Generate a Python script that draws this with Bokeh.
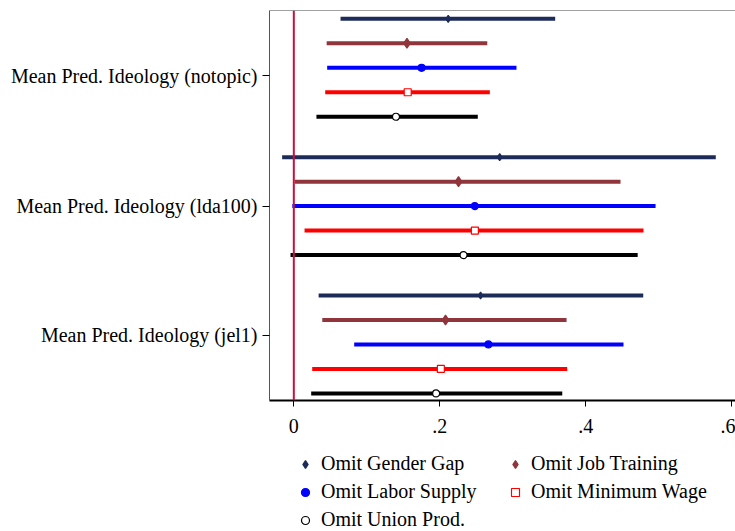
from bokeh.plotting import figure
from bokeh.layouts import column
from bokeh.models import Range1d, FixedTicker, Span, Legend, LegendItem, ColumnDataSource
from bokeh.embed import file_html
from bokeh.resources import INLINE

# ---------------- data ----------------
categories = ["Mean Pred. Ideology (notopic)",
              "Mean Pred. Ideology (lda100)",
              "Mean Pred. Ideology (jel1)"]

series_names = ["Omit Gender Gap", "Omit Job Training", "Omit Labor Supply",
                "Omit Minimum Wage", "Omit Union Prod."]

gender_pt = [0.2115, 0.282, 0.2558]
gender_lo = [0.064, -0.016, 0.034]
gender_hi = [0.358, 0.578, 0.4786]

job_pt = [0.155, 0.2256, 0.2078]
job_lo = [0.045, 0.0014, 0.039]
job_hi = [0.265, 0.4475, 0.3736]

labor_pt = [0.175, 0.248, 0.2667]
labor_lo = [0.0457, -0.002, 0.0827]
labor_hi = [0.305, 0.4955, 0.4516]

minwage_pt = [0.156, 0.248, 0.2014]
minwage_lo = [0.043, 0.0147, 0.0252]
minwage_hi = [0.2685, 0.479, 0.3745]

union_pt = [0.140, 0.2325, 0.195]
union_lo = [0.031, -0.0045, 0.0238]
union_hi = [0.252, 0.471, 0.3677]

x_tick_values = [0, 0.2, 0.4, 0.6]
x_tick_labels = ["0", ".2", ".4", ".6"]

# ---------------- styling ----------------
FONT = "Liberation Serif"
FSIZE = "20px"
colors = ["#1c2b58", "#90353b", "#0000ff", "#ff0000", "#000000"]
markers = ["diamond", "diamond", "circle", "square", "circle"]
msizes = [7, 10, 7, 7, 7]
fills = ["#1c2b58", "#90353b", "#0000ff", "white", "white"]

all_pt = [gender_pt, job_pt, labor_pt, minwage_pt, union_pt]
all_lo = [gender_lo, job_lo, labor_lo, minwage_lo, union_lo]
all_hi = [gender_hi, job_hi, labor_hi, minwage_hi, union_hi]

offsets = [-0.354, -0.177, 0.0, 0.177, 0.354]
centers = [1, 2, 3]
tick_pos = [1.056, 2.0, 2.935]

p = figure(width=735, height=444, output_backend="svg", toolbar_location=None,
           x_range=Range1d(-0.0333, 0.605), y_range=Range1d(3.405, 0.586),
           min_border_left=269, min_border_right=0, min_border_top=10,
           min_border_bottom=44)
p.outline_line_color = None
p.xgrid.visible = False
p.ygrid.visible = False
p.background_fill_color = "white"
p.border_fill_color = "white"

p.add_layout(Span(location=0, dimension="height", line_color="#c8103c", line_width=2))
p.add_layout(Span(location=0.586, dimension="width", line_color="#444444", line_width=1))

sources = []
for i in range(5):
    ys = [c + offsets[i] for c in centers]
    src = ColumnDataSource(dict(y=ys, pt=all_pt[i], lo=all_lo[i], hi=all_hi[i]))
    sources.append(src)
    p.segment(x0="lo", x1="hi", y0="y", y1="y", source=src,
              line_color=colors[i], line_width=4, line_cap="butt")
    p.scatter(x="pt", y="y", source=src, marker=markers[i], size=msizes[i],
              line_color=colors[i], fill_color=fills[i], line_width=1.2)

# axes
p.xaxis.ticker = FixedTicker(ticks=x_tick_values)
p.xaxis.major_label_overrides = {v: l for v, l in zip(x_tick_values, x_tick_labels)}
p.xaxis.axis_line_color = "black"
p.xaxis.axis_line_width = 2
p.xaxis.major_tick_out = 6
p.xaxis.major_tick_in = 0
p.xaxis.minor_tick_line_color = None
p.xaxis.major_label_standoff = 12
p.xaxis.major_label_text_font = FONT
p.xaxis.major_label_text_font_size = FSIZE
p.xaxis.major_label_text_color = "black"

p.yaxis.ticker = FixedTicker(ticks=tick_pos)
p.yaxis.major_label_overrides = {t: c for t, c in zip(tick_pos, categories)}
p.yaxis.axis_line_color = "#555555"
p.yaxis.axis_line_width = 1
p.yaxis.major_tick_out = 7
p.yaxis.major_tick_in = 0
p.yaxis.minor_tick_line_color = None
p.yaxis.major_label_standoff = 5
p.yaxis.major_label_text_font = FONT
p.yaxis.major_label_text_font_size = FSIZE
p.yaxis.major_label_text_color = "black"

# ---------------- legend panel (same data, out of its view) ----------------
lg = figure(width=735, height=87, output_backend="svg", toolbar_location=None,
            x_range=Range1d(0, 1), y_range=Range1d(-3, -2),
            x_axis_location=None, y_axis_location=None,
            min_border_left=0, min_border_right=0, min_border_top=0, min_border_bottom=0)
lg.outline_line_color = None
lg.xgrid.visible = False
lg.ygrid.visible = False

leg_renderers = []
for i in range(5):
    r = lg.scatter(x="pt", y="y", source=sources[i], marker=markers[i], size=msizes[i],
                   line_color=colors[i], fill_color=fills[i], line_width=1.2)
    leg_renderers.append(r)

# column-major fill: left column Gender/Labor/Union, right column Job/MinWage
legend_order = [0, 2, 4, 1, 3]
items = [LegendItem(label=series_names[i], renderers=[leg_renderers[i]]) for i in legend_order]

legend = Legend(items=items, ncols=2, location=(26, 0),
                label_text_font=FONT, label_text_font_size=FSIZE,
                label_text_color="black",
                glyph_width=20, glyph_height=22, label_height=22, label_standoff=6,
                label_width=179, spacing=5, padding=0, margin=0,
                border_line_color=None, background_fill_alpha=0)
lg.add_layout(legend, "center")

layout = column(p, lg, spacing=0)
open("out.html", "w").write(file_html(layout, INLINE))
